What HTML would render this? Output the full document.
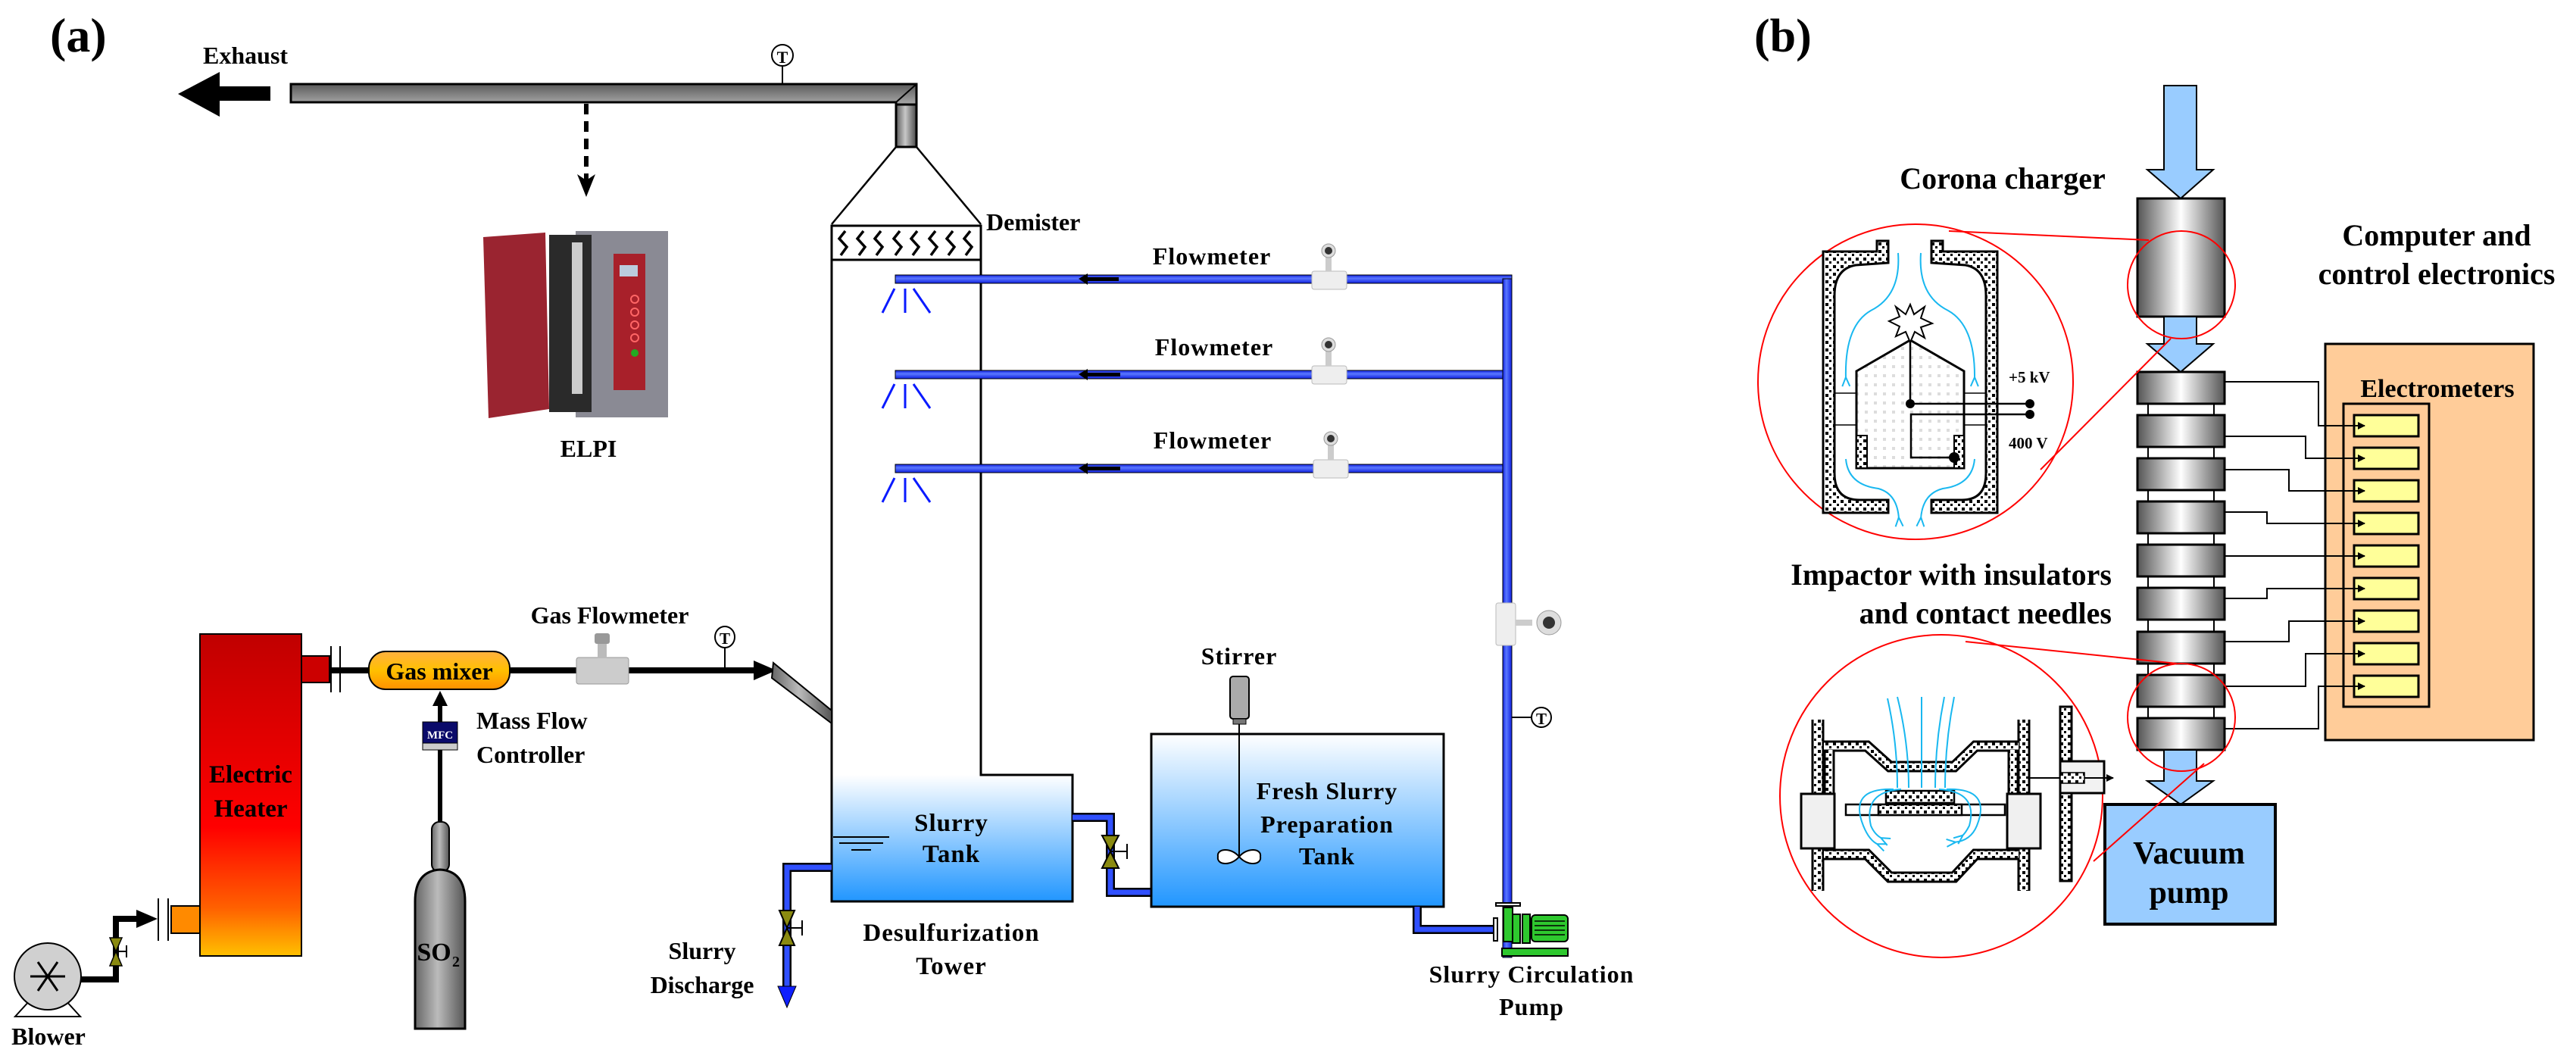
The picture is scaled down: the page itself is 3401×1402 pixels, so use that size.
<!DOCTYPE html>
<html><head><meta charset="utf-8"><style>
html,body{margin:0;padding:0;background:#fff}
svg{display:block}
text{font-family:"Liberation Serif","Times New Roman",serif;font-weight:bold;fill:#000}
</style></head><body>
<svg width="3401" height="1402" viewBox="0 0 3401 1402" xmlns="http://www.w3.org/2000/svg" font-family="'Liberation Serif', 'Times New Roman', serif">
<defs>
<linearGradient id="gpipeH" x1="0" y1="0" x2="0" y2="1"><stop offset="0" stop-color="#5a5a5a"/><stop offset=".45" stop-color="#c8c8c8"/><stop offset="1" stop-color="#4a4a4a"/></linearGradient>
<linearGradient id="gpipeV" x1="0" y1="0" x2="1" y2="0"><stop offset="0" stop-color="#5a5a5a"/><stop offset=".45" stop-color="#c8c8c8"/><stop offset="1" stop-color="#4a4a4a"/></linearGradient>
<linearGradient id="cyl" x1="0" y1="0" x2="1" y2="0"><stop offset="0" stop-color="#555"/><stop offset=".5" stop-color="#fff"/><stop offset="1" stop-color="#555"/></linearGradient>
<linearGradient id="heat" x1="0" y1="0" x2="0" y2="1"><stop offset="0" stop-color="#c00000"/><stop offset=".6" stop-color="#ff0000"/><stop offset=".85" stop-color="#ff6000"/><stop offset="1" stop-color="#ffc000"/></linearGradient>
<linearGradient id="mix" x1="0" y1="0" x2="0" y2="1"><stop offset="0" stop-color="#ffb040"/><stop offset=".5" stop-color="#ffc000"/><stop offset="1" stop-color="#ff9000"/></linearGradient>
<linearGradient id="water" x1="0" y1="0" x2="0" y2="1"><stop offset="0" stop-color="#ffffff"/><stop offset="1" stop-color="#2196ff"/></linearGradient>
<linearGradient id="gas" x1="0" y1="0" x2="1" y2="0"><stop offset="0" stop-color="#666"/><stop offset=".45" stop-color="#bbb"/><stop offset="1" stop-color="#555"/></linearGradient>
<linearGradient id="bpH" x1="0" y1="0" x2="0" y2="1"><stop offset="0" stop-color="#1020e0"/><stop offset=".4" stop-color="#5a78ff"/><stop offset="1" stop-color="#1020e0"/></linearGradient>
<linearGradient id="bpV" x1="0" y1="0" x2="1" y2="0"><stop offset="0" stop-color="#1020e0"/><stop offset=".4" stop-color="#5a78ff"/><stop offset="1" stop-color="#1020e0"/></linearGradient>
<pattern id="hatch" width="10" height="10" patternUnits="userSpaceOnUse"><rect width="10" height="10" fill="#fff"/><rect width="4" height="4" fill="#000"/><rect x="5" y="5" width="3" height="3" fill="#000"/></pattern>
<pattern id="dots" width="12" height="12" patternUnits="userSpaceOnUse"><rect width="12" height="12" fill="#fff"/><rect x="2" y="2" width="4" height="4" fill="#ddd"/></pattern>
<marker id="ah" markerWidth="10" markerHeight="10" refX="9" refY="5" orient="auto" markerUnits="userSpaceOnUse"><path d="M0,0 L10,5 L0,10 z" fill="#000"/></marker>
<marker id="ab" markerWidth="14" markerHeight="14" refX="2" refY="7" orient="auto" markerUnits="userSpaceOnUse"><path d="M0,7 L12,2 M0,7 L12,12" stroke="#19b8f0" stroke-width="2" fill="none"/></marker>
</defs>

<!-- ========== (a) ========== -->
<text x="66" y="68" font-size="64">(a)</text>
<text x="268" y="84" font-size="32">Exhaust</text>
<path d="M357,114 L290,114 L290,95 L235,124 L290,154 L290,133 L357,133 Z" fill="#000"/>
<path d="M384,111 L1210,111 L1210,194 L1183,194 L1183,135 L384,135 Z" fill="url(#gpipeH)" stroke="#000" stroke-width="3"/>
<rect x="1183" y="138" width="27" height="56" fill="url(#gpipeV)" stroke="#000" stroke-width="3"/>
<line x1="1183" y1="135" x2="1210" y2="111" stroke="#000" stroke-width="2"/>
<line x1="1033" y1="87" x2="1033" y2="111" stroke="#000" stroke-width="2"/>
<ellipse cx="1033" cy="73" rx="14" ry="14" fill="#fff" stroke="#000" stroke-width="2"/>
<text x="1033" y="83" font-size="22" font-weight="normal" text-anchor="middle">T</text>
<line x1="774" y1="137" x2="774" y2="238" stroke="#000" stroke-width="6" stroke-dasharray="14,9"/>
<path d="M762,230 L774,260 L786,230 L774,238 Z" fill="#000"/>
<!-- ELPI -->
<rect x="760" y="305" width="122" height="246" fill="#8a8a94"/>
<rect x="725" y="310" width="56" height="234" fill="#2a2a2a"/>
<rect x="755" y="320" width="14" height="200" fill="#ccc"/>
<path d="M638,313 L720,307 L725,540 L645,552 Z" fill="#9a2430"/>
<rect x="810" y="335" width="42" height="180" fill="#a8202a"/>
<rect x="818" y="350" width="24" height="15" fill="#bcd"/>
<circle cx="838" cy="395" r="5" fill="none" stroke="#f66" stroke-width="2"/>
<circle cx="838" cy="412" r="5" fill="none" stroke="#f66" stroke-width="2"/>
<circle cx="838" cy="429" r="5" fill="none" stroke="#f66" stroke-width="2"/>
<circle cx="838" cy="446" r="5" fill="none" stroke="#f66" stroke-width="2"/>
<circle cx="838" cy="466" r="5" fill="#2a2" />
<text x="777" y="603" font-size="32" font-weight="normal" text-anchor="middle">ELPI</text>

<!-- Tower -->
<path d="M1183,194 L1098,296 M1210,194 L1295,296" stroke="#000" stroke-width="2.5" fill="none"/>
<rect x="1098" y="298" width="197" height="45" fill="#fff" stroke="#000" stroke-width="3"/>
<g stroke="#000" stroke-width="3.5" fill="none">
<path d="M1116,305 L1108,315 L1118,326 L1110,337"/>
<path d="M1140,305 L1132,315 L1142,326 L1134,337"/>
<path d="M1163,305 L1155,315 L1165,326 L1157,337"/>
<path d="M1188,305 L1180,315 L1190,326 L1182,337"/>
<path d="M1211,305 L1203,315 L1213,326 L1205,337"/>
<path d="M1235,305 L1227,315 L1237,326 L1229,337"/>
<path d="M1258,305 L1250,315 L1260,326 L1252,337"/>
<path d="M1281,305 L1273,315 L1283,326 L1275,337"/>
</g>
<text x="1302" y="304" font-size="32">Demister</text>
<rect x="1098" y="1023" width="318" height="167" fill="url(#water)"/>
<path d="M1098,344 L1098,1190 L1416,1190 L1416,1023 L1295,1023 L1295,344" stroke="#000" stroke-width="3" fill="none"/>
<path d="M1100,1105 L1174,1105 M1108,1113 L1166,1113 M1124,1122 L1150,1122" stroke="#000" stroke-width="2"/>
<text x="1256" y="1097" font-size="33" text-anchor="middle" letter-spacing="1">Slurry</text>
<text x="1256" y="1138" font-size="33" text-anchor="middle" letter-spacing="1">Tank</text>
<text x="1256" y="1242" font-size="33" text-anchor="middle" letter-spacing="1">Desulfurization</text>
<text x="1256" y="1286" font-size="33" text-anchor="middle" letter-spacing="1">Tower</text>

<g>
<rect x="1182" y="363" width="814" height="11" fill="url(#bpH)" stroke="#000" stroke-width="1"/>
<rect x="1182" y="489" width="808" height="11" fill="url(#bpH)" stroke="#000" stroke-width="1"/>
<rect x="1182" y="613" width="808" height="11" fill="url(#bpH)" stroke="#000" stroke-width="1"/>
<rect x="1984" y="368" width="12" height="896" fill="url(#bpV)" stroke="#000" stroke-width="1"/>
<g stroke="#0a1aff" stroke-width="3" fill="none">
<path d="M1181,381 L1165,413 M1195,381 L1195,413 M1206,381 L1228,413"/>
<path d="M1181,507 L1165,539 M1195,507 L1195,539 M1206,507 L1228,539"/>
<path d="M1181,631 L1165,663 M1195,631 L1195,663 M1206,631 L1228,663"/>
</g>
<g fill="#000">
<path d="M1477,366 L1436,366 L1436,361 L1424,368 L1436,376 L1436,371 L1477,371Z"/>
<path d="M1479,492 L1436,492 L1436,487 L1424,494 L1436,502 L1436,497 L1479,497Z"/>
<path d="M1479,616 L1436,616 L1436,611 L1424,618 L1436,626 L1436,621 L1479,621Z"/>
</g>
<text x="1600" y="349" font-size="32" text-anchor="middle" letter-spacing="1">Flowmeter</text>
<text x="1603" y="469" font-size="32" text-anchor="middle" letter-spacing="1">Flowmeter</text>
<text x="1601" y="592" font-size="32" text-anchor="middle" letter-spacing="1">Flowmeter</text>
<g>
<rect x="1732" y="358" width="46" height="24" rx="3" fill="#eee" stroke="#bbb"/><rect x="1750" y="336" width="8" height="22" fill="#ccc"/><circle cx="1754" cy="331" r="9" fill="#ddd" stroke="#999"/><circle cx="1754" cy="331" r="5" fill="#333"/>
<rect x="1732" y="483" width="46" height="24" rx="3" fill="#eee" stroke="#bbb"/><rect x="1750" y="461" width="8" height="22" fill="#ccc"/><circle cx="1754" cy="455" r="9" fill="#ddd" stroke="#999"/><circle cx="1754" cy="455" r="5" fill="#333"/>
<rect x="1734" y="607" width="46" height="24" rx="3" fill="#eee" stroke="#bbb"/><rect x="1753" y="585" width="8" height="22" fill="#ccc"/><circle cx="1757" cy="579" r="9" fill="#ddd" stroke="#999"/><circle cx="1757" cy="579" r="5" fill="#333"/>
<rect x="1975" y="796" width="26" height="56" rx="3" fill="#eee" stroke="#bbb"/><rect x="2001" y="818" width="22" height="8" fill="#ccc"/><circle cx="2045" cy="822" r="16" fill="#ddd" stroke="#999"/><circle cx="2045" cy="822" r="8" fill="#333"/>
</g>
<line x1="1996" y1="947" x2="2022" y2="947" stroke="#000" stroke-width="2"/>
<circle cx="2035" cy="947" r="13" fill="#fff" stroke="#000" stroke-width="2"/>
<text x="2035" y="956" font-size="21" font-weight="normal" text-anchor="middle">T</text>
</g>

<path d="M1416,1079 L1466,1079 L1466,1178 L1520,1178" stroke="#000" stroke-width="12" fill="none"/>
<path d="M1416,1079 L1466,1079 L1466,1178 L1520,1178" stroke="#3050ff" stroke-width="7" fill="none"/>
<path d="M1455,1103 L1477,1103 L1466,1124 Z M1455,1146 L1477,1146 L1466,1124 Z" fill="#8a8a10" stroke="#000" stroke-width="2"/>
<path d="M1466,1124 L1488,1124 M1488,1114 L1488,1134" stroke="#000" stroke-width="2"/>
<rect x="1520" y="969" width="386" height="228" fill="url(#water)" stroke="#000" stroke-width="3"/>
<rect x="1624" y="893" width="25" height="56" rx="4" fill="#aaa" stroke="#000" stroke-width="2"/>
<rect x="1628" y="949" width="17" height="7" fill="#777" stroke="#000"/>
<line x1="1636" y1="956" x2="1636" y2="1131" stroke="#000" stroke-width="2"/>
<path d="M1636,1131 C1625,1118 1606,1120 1608,1131 C1606,1142 1625,1144 1636,1131 C1647,1118 1666,1120 1664,1131 C1666,1142 1647,1144 1636,1131Z" fill="#fff" stroke="#000" stroke-width="2"/>
<text x="1636" y="877" font-size="32" text-anchor="middle" letter-spacing="1">Stirrer</text>
<text x="1752" y="1055" font-size="32" text-anchor="middle" letter-spacing="1">Fresh Slurry</text>
<text x="1752" y="1099" font-size="32" text-anchor="middle" letter-spacing="1">Preparation</text>
<text x="1752" y="1141" font-size="32" text-anchor="middle" letter-spacing="1">Tank</text>
<path d="M1871,1197 L1871,1227 L1973,1227" stroke="#000" stroke-width="12" fill="none"/>
<path d="M1871,1197 L1871,1227 L1973,1227" stroke="#3050ff" stroke-width="7" fill="none"/>
<rect x="1972" y="1212" width="5" height="30" fill="#fff" stroke="#000" stroke-width="2"/>
<rect x="1975" y="1192" width="32" height="4" fill="#fff" stroke="#000" stroke-width="2"/>
<rect x="1985" y="1198" width="12" height="45" fill="#2ec82e" stroke="#000" stroke-width="2"/>
<rect x="1997" y="1207" width="10" height="38" fill="#2ec82e" stroke="#000" stroke-width="2"/>
<rect x="2010" y="1207" width="10" height="38" fill="#2ec82e" stroke="#000" stroke-width="2"/>
<rect x="2022" y="1208" width="48" height="35" rx="5" fill="#2ec82e" stroke="#000" stroke-width="2"/>
<path d="M2026,1216 L2066,1216 M2026,1222 L2066,1222 M2026,1228 L2066,1228 M2026,1234 L2066,1234" stroke="#000" stroke-width="1.5"/>
<rect x="1983" y="1252" width="87" height="10" fill="#2ec82e" stroke="#000" stroke-width="2"/>
<text x="2022" y="1297" font-size="32" text-anchor="middle" letter-spacing="1">Slurry Circulation</text>
<text x="2022" y="1340" font-size="32" text-anchor="middle" letter-spacing="1">Pump</text>

<path d="M1098,1145 L1039,1145 L1039,1305" stroke="#000" stroke-width="12" fill="none"/>
<path d="M1098,1145 L1039,1145 L1039,1305" stroke="#3050ff" stroke-width="7" fill="none"/>
<path d="M1029,1202 L1049,1202 L1039,1225 Z M1029,1248 L1049,1248 L1039,1225 Z" fill="#8a8a10" stroke="#000" stroke-width="2"/>
<path d="M1039,1225 L1059,1225 M1059,1215 L1059,1235" stroke="#000" stroke-width="2"/>
<path d="M1027,1302 L1051,1302 L1039,1330 Z" fill="#1020ff" stroke="#000" stroke-width="1"/>
<text x="927" y="1266" font-size="32" text-anchor="middle">Slurry</text>
<text x="927" y="1311" font-size="32" text-anchor="middle">Discharge</text>

<line x1="436" y1="885" x2="1000" y2="885" stroke="#000" stroke-width="8"/>
<path d="M995,872 L1025,885 L995,898 Z" fill="#000"/>
<path d="M1021,875 L1098,938 L1098,955 L1019,895 Z" fill="url(#gas)" stroke="#000" stroke-width="2"/>
<rect x="264" y="837" width="134" height="425" fill="url(#heat)" stroke="#000" stroke-width="2"/>
<rect x="398" y="866" width="37" height="35" fill="#cc0000" stroke="#000" stroke-width="2"/>
<path d="M437,853 L437,914 M449,853 L449,914" stroke="#000" stroke-width="2"/>
<text x="331" y="1033" font-size="33" text-anchor="middle">Electric</text>
<text x="331" y="1078" font-size="33" text-anchor="middle">Heater</text>
<rect x="487" y="860" width="186" height="50" rx="22" fill="url(#mix)" stroke="#000" stroke-width="2"/>
<text x="580" y="897" font-size="32" text-anchor="middle">Gas mixer</text>
<rect x="761" y="868" width="69" height="35" rx="3" fill="#ccc" stroke="#999"/>
<rect x="789" y="845" width="12" height="24" fill="#bbb"/>
<rect x="785" y="836" width="20" height="14" rx="3" fill="#999"/>
<text x="805" y="823" font-size="32" font-weight="normal" text-anchor="middle">Gas Flowmeter</text>
<line x1="957" y1="854" x2="957" y2="882" stroke="#000" stroke-width="2"/>
<ellipse cx="957" cy="841" rx="13" ry="14" fill="#fff" stroke="#000" stroke-width="2"/>
<text x="957" y="850" font-size="21" font-weight="normal" text-anchor="middle">T</text>
<line x1="581" y1="1088" x2="581" y2="930" stroke="#000" stroke-width="6"/>
<path d="M571,932 L581,912 L591,932 Z" fill="#000"/>
<rect x="558" y="953" width="46" height="37" fill="#0a0a6a" stroke="#000" stroke-width="1"/>
<rect x="558" y="981" width="46" height="9" fill="#ccc" stroke="#000" stroke-width="1"/>
<text x="581" y="975" font-size="15" font-weight="normal" text-anchor="middle" style="fill:#fff">MFC</text>
<text x="629" y="962" font-size="32">Mass Flow</text>
<text x="629" y="1007" font-size="32">Controller</text>
<rect x="570" y="1085" width="23" height="66" rx="10" fill="url(#gas)" stroke="#000" stroke-width="2"/>
<path d="M548,1358 L548,1190 Q548,1150 581,1148 Q614,1150 614,1190 L614,1358 Z" fill="url(#gas)" stroke="#000" stroke-width="3"/>
<text x="573" y="1268" font-size="34" text-anchor="middle">SO</text><text x="597" y="1276" font-size="20">2</text>
<path d="M63,1293 L153,1293 L153,1213 L185,1213" stroke="#000" stroke-width="8" fill="none"/>
<path d="M180,1201 L208,1213 L180,1225 Z" fill="#000"/>
<path d="M145,1238 L161,1238 L153,1256 Z M145,1275 L161,1275 L153,1256 Z" fill="#8a8a10" stroke="#000" stroke-width="1.5"/>
<path d="M153,1256 L167,1256 M167,1248 L167,1264" stroke="#000" stroke-width="2"/>
<path d="M209,1186 L209,1242 M222,1186 L222,1242" stroke="#000" stroke-width="2"/>
<rect x="226" y="1196" width="38" height="36" fill="#ff8a00" stroke="#000" stroke-width="2"/>
<path d="M40,1320 L20,1342 L106,1342 L86,1320" fill="#fff" stroke="#000" stroke-width="2"/>
<ellipse cx="63" cy="1289" rx="44" ry="44" fill="#d0d0d0" stroke="#000" stroke-width="2"/>
<path d="M40,1289 L86,1289 M50,1270 L76,1308 M76,1270 L50,1308" stroke="#000" stroke-width="3"/>
<text x="64" y="1379" font-size="32" text-anchor="middle">Blower</text>

<!-- ========== (b) ========== -->
<text x="2316" y="68" font-size="62">(b)</text>
<path d="M2857,113 L2900,113 L2900,224 L2922,224 L2879,262 L2835,224 L2857,224 Z" fill="#99ccff" stroke="#000" stroke-width="2"/>
<rect x="2822" y="262" width="115" height="156" fill="url(#cyl)" stroke="#000" stroke-width="3"/>
<path d="M2857,418 L2900,418 L2900,454 L2922,454 L2879,491 L2835,454 L2857,454 Z" fill="#99ccff" stroke="#000" stroke-width="2"/>
<g stroke="#000" stroke-width="3">
<rect x="2836" y="533" width="87" height="15" fill="#fff" stroke-width="2"/>
<rect x="2836" y="590" width="87" height="15" fill="#fff" stroke-width="2"/>
<rect x="2836" y="647" width="87" height="15" fill="#fff" stroke-width="2"/>
<rect x="2836" y="704" width="87" height="15" fill="#fff" stroke-width="2"/>
<rect x="2836" y="761" width="87" height="15" fill="#fff" stroke-width="2"/>
<rect x="2836" y="818" width="87" height="16" fill="#fff" stroke-width="2"/>
<rect x="2836" y="876" width="87" height="15" fill="#fff" stroke-width="2"/>
<rect x="2836" y="933" width="87" height="15" fill="#fff" stroke-width="2"/>
<rect x="2822" y="491" width="115" height="42" fill="url(#cyl)"/>
<rect x="2822" y="548" width="115" height="42" fill="url(#cyl)"/>
<rect x="2822" y="605" width="115" height="42" fill="url(#cyl)"/>
<rect x="2822" y="662" width="115" height="42" fill="url(#cyl)"/>
<rect x="2822" y="719" width="115" height="42" fill="url(#cyl)"/>
<rect x="2822" y="776" width="115" height="42" fill="url(#cyl)"/>
<rect x="2822" y="834" width="115" height="42" fill="url(#cyl)"/>
<rect x="2822" y="891" width="115" height="42" fill="url(#cyl)"/>
<rect x="2822" y="948" width="115" height="42" fill="url(#cyl)"/>
</g>
<path d="M2857,990 L2900,990 L2900,1031 L2922,1031 L2879,1062 L2835,1031 L2857,1031 Z" fill="#99ccff" stroke="#000" stroke-width="2"/>
<rect x="2779" y="1062" width="225" height="158" fill="#99ccff" stroke="#000" stroke-width="4"/>
<text x="2890" y="1140" font-size="42" text-anchor="middle">Vacuum</text>
<text x="2890" y="1192" font-size="42" text-anchor="middle">pump</text>
<rect x="3070" y="454" width="275" height="523" fill="#ffcc99" stroke="#000" stroke-width="3"/>
<rect x="3094" y="533" width="113" height="400" fill="#ffcc99" stroke="#000" stroke-width="3"/>
<text x="3218" y="524" font-size="34" text-anchor="middle">Electrometers</text>
<g fill="#ffff99" stroke="#000" stroke-width="3">
<rect x="3108" y="548" width="85" height="28"/><rect x="3108" y="591" width="85" height="28"/><rect x="3108" y="634" width="85" height="28"/><rect x="3108" y="677" width="85" height="28"/><rect x="3108" y="720" width="85" height="28"/><rect x="3108" y="763" width="85" height="28"/><rect x="3108" y="806" width="85" height="28"/><rect x="3108" y="849" width="85" height="28"/><rect x="3108" y="892" width="85" height="28"/>
</g>
<g stroke="#000" stroke-width="2" fill="none" marker-end="url(#ah)">
<path d="M2937,504 L3061,504 L3061,562 L3122,562"/>
<path d="M2937,576 L3044,576 L3044,605 L3122,605"/>
<path d="M2937,620 L3022,620 L3022,648 L3122,648"/>
<path d="M2937,676 L2993,676 L2993,691 L3122,691"/>
<path d="M2937,734 L3122,734"/>
<path d="M2937,790 L2993,790 L2993,777 L3122,777"/>
<path d="M2937,847 L3022,847 L3022,820 L3122,820"/>
<path d="M2937,906 L3044,906 L3044,863 L3122,863"/>
<path d="M2937,962 L3061,962 L3061,906 L3122,906"/>
</g>
<text x="3217" y="324" font-size="40" text-anchor="middle">Computer and</text>
<text x="3217" y="375" font-size="40" text-anchor="middle">control electronics</text>
<text x="2644" y="249" font-size="40" text-anchor="middle">Corona charger</text>
<text x="2788" y="772" font-size="40" text-anchor="end">Impactor with insulators</text>
<text x="2788" y="823" font-size="40" text-anchor="end">and contact needles</text>

<g stroke="#ff0000" stroke-width="2" fill="none">
<circle cx="2529" cy="504" r="208"/>
<circle cx="2880" cy="376" r="71"/>
<circle cx="2563" cy="1051" r="213"/>
<circle cx="2880" cy="947" r="71"/>
<line x1="2573" y1="305" x2="2837" y2="317"/>
<line x1="2694" y1="620" x2="2866" y2="447"/>
<line x1="2595" y1="847" x2="2874" y2="876"/>
<line x1="2764" y1="1137" x2="2910" y2="1008"/>
</g>

<path d="M2407,332 L2478,332 L2478,318 L2493,318 L2493,347 L2450,350 Q2422,355 2422,390 L2422,625 Q2422,660 2455,660 L2493,660 L2493,677 L2407,677 Z" fill="url(#hatch)" stroke="#000" stroke-width="3"/>
<path d="M2637,332 L2565,332 L2565,318 L2550,318 L2550,347 L2595,350 Q2622,355 2622,390 L2622,625 Q2622,660 2590,660 L2550,660 L2550,677 L2637,677 Z" fill="url(#hatch)" stroke="#000" stroke-width="3"/>
<path d="M2451,490 L2522,449 L2593,490 L2593,618 L2451,618 Z" fill="url(#dots)" stroke="#000" stroke-width="3"/>
<rect x="2451" y="575" width="14" height="43" fill="url(#hatch)" stroke="#000" stroke-width="2"/>
<rect x="2580" y="575" width="13" height="43" fill="url(#hatch)" stroke="#000" stroke-width="2"/>
<path d="M2422,519 L2451,519 M2422,561 L2451,561 M2593,519 L2622,519 M2593,561 L2622,561" stroke="#000" stroke-width="1.5"/>
<path d="M2522,433 L2522,533 L2680,533 M2680,547 L2523,547 L2523,604 L2580,604" stroke="#000" stroke-width="2.5" fill="none"/>
<circle cx="2522" cy="533" r="6" fill="#000"/><circle cx="2680" cy="533" r="6" fill="#000"/><circle cx="2680" cy="547" r="6" fill="#000"/><circle cx="2580" cy="604" r="7" fill="#000"/>
<path d="M2522,402 L2527,415 L2541,405 L2536,420 L2551,427 L2536,432 L2541,446 L2528,438 L2522,452 L2516,438 L2503,444 L2508,431 L2494,424 L2508,418 L2503,405 L2516,415 Z" fill="#fff" stroke="#000" stroke-width="2"/>
<g stroke="#19b8f0" stroke-width="2" fill="none" marker-end="url(#ab)">
<path d="M2506,334 Q2510,390 2470,410 Q2435,430 2437,500"/>
<path d="M2536,334 Q2532,390 2572,410 Q2608,430 2607,500"/>
<path d="M2437,606 Q2440,640 2480,645 Q2505,652 2507,685"/>
<path d="M2607,606 Q2604,640 2565,645 Q2538,652 2536,685"/>
</g>
<text x="2652" y="505" font-size="21" font-weight="normal">+5 kV</text>
<text x="2652" y="592" font-size="21" font-weight="normal">400 V</text>

<g fill="none">
<path d="M2400,950 L2400,1176 M2672,950 L2672,1176" stroke="#000" stroke-width="17"/>
<path d="M2400,950 L2400,1176 M2672,950 L2672,1176" stroke="url(#hatch)" stroke-width="11"/>
<path d="M2408,985 L2465,985 L2495,1012 L2580,1012 L2608,985 L2665,985 M2415,990 L2415,1070 M2658,990 L2658,1070" stroke="#000" stroke-width="15"/>
<path d="M2408,985 L2465,985 L2495,1012 L2580,1012 L2608,985 L2665,985 M2415,990 L2415,1070 M2658,990 L2658,1070" stroke="url(#hatch)" stroke-width="9"/>
<path d="M2408,1128 L2465,1128 L2495,1158 L2580,1158 L2608,1128 L2665,1128" stroke="#000" stroke-width="15"/>
<path d="M2408,1128 L2465,1128 L2495,1158 L2580,1158 L2608,1128 L2665,1128" stroke="url(#hatch)" stroke-width="9"/>
</g>
<rect x="2437" y="1062" width="210" height="14" fill="#fff" stroke="#000" stroke-width="2.5"/>
<rect x="2480" y="1062" width="110" height="14" fill="url(#hatch)" stroke="#000" stroke-width="2.5"/>
<path d="M2490,1044 L2580,1044 L2580,1060 L2490,1060 Z" fill="url(#hatch)" stroke="#000" stroke-width="2.5"/>
<rect x="2378" y="1048" width="44" height="72" fill="#f0f0f0" stroke="#000" stroke-width="3"/>
<rect x="2650" y="1048" width="44" height="72" fill="#f0f0f0" stroke="#000" stroke-width="3"/>
<rect x="2720" y="933" width="15" height="230" fill="url(#hatch)" stroke="#000" stroke-width="3"/>
<rect x="2720" y="1005" width="58" height="42" fill="#f2f2f2" stroke="#000" stroke-width="3"/>
<line x1="2680" y1="1027" x2="2790" y2="1027" stroke="#000" stroke-width="2" marker-end="url(#ah)"/>
<rect x="2720" y="1020" width="32" height="14" fill="url(#hatch)" stroke="#000" stroke-width="1.5"/>
<g stroke="#19b8f0" stroke-width="2" fill="none">
<path d="M2537,920 L2537,1040"/>
<path d="M2492,922 Q2505,980 2505,1040"/><path d="M2505,920 Q2520,980 2520,1040"/>
<path d="M2567,920 Q2555,980 2555,1040"/><path d="M2580,920 Q2568,980 2568,1040"/>
</g>
<g stroke="#19b8f0" stroke-width="2" fill="none" marker-end="url(#ab)">
<path d="M2500,1042 Q2440,1040 2460,1090 Q2468,1110 2480,1115"/>
<path d="M2510,1042 Q2460,1045 2470,1090 Q2475,1102 2485,1107"/>
<path d="M2570,1042 Q2630,1040 2610,1090 Q2602,1110 2580,1112"/>
<path d="M2560,1042 Q2612,1045 2600,1090 Q2595,1100 2590,1104"/>
</g>
</svg>
</body></html>
